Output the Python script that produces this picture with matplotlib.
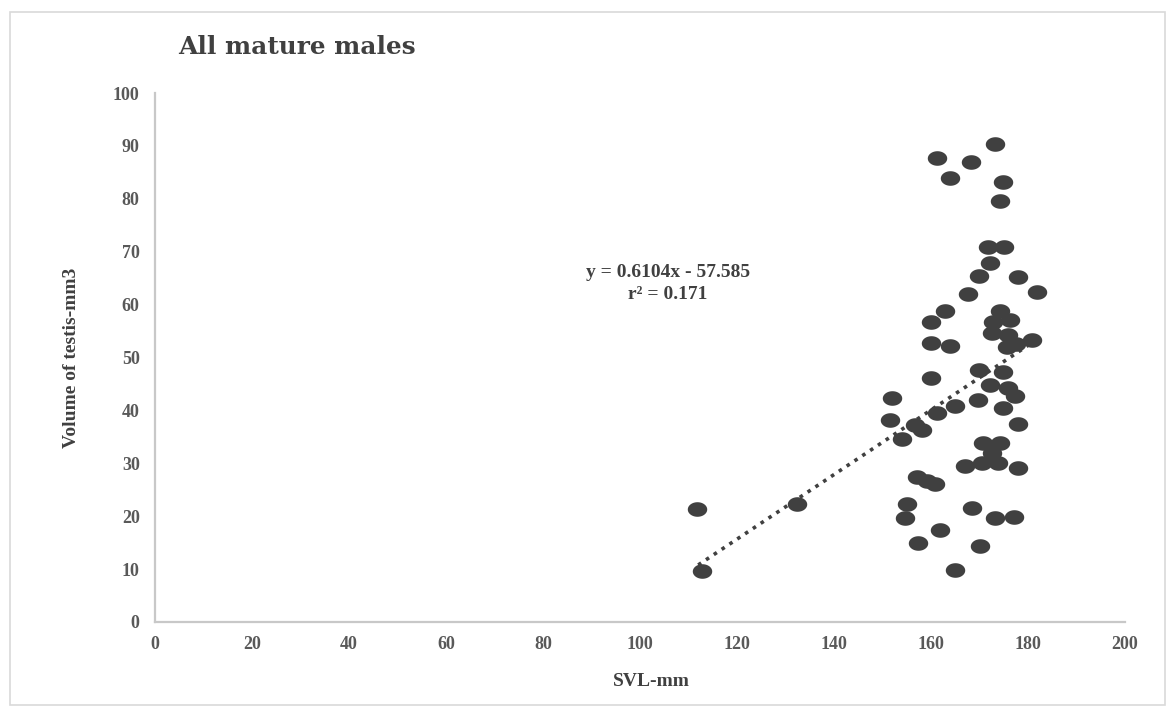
import numpy as np
import matplotlib
matplotlib.use("Agg")
import matplotlib.pyplot as plt
from matplotlib.path import Path
from matplotlib.patches import Rectangle

# ---- data ----
svl = [111.8, 112.8, 132.4, 151.9, 151.5, 154.0, 155.0, 154.6, 156.7, 158.1,
       157.4, 157.1, 159.1, 160.8, 160.1, 160.1, 160.1, 161.2, 161.2, 161.9,
       162.9, 163.9, 163.9, 164.9, 164.9, 167.6, 167.0, 168.2, 168.4, 169.9,
       169.7, 169.9, 170.0, 170.5, 170.7, 172.2, 171.8, 172.8, 172.2, 172.5,
       173.2, 172.5, 173.2, 174.2, 173.8, 174.8, 174.2, 174.8, 175.1, 174.2,
       174.8, 176.3, 175.9, 175.7, 175.9, 177.3, 177.1, 177.9, 177.9, 178.0,
       180.8, 181.9, 177.5]
volume = [21.4, 9.6, 22.4, 42.3, 38.1, 34.5, 22.4, 19.6, 37.2, 36.3,
          14.9, 27.5, 26.7, 26.1, 46.2, 52.8, 56.8, 87.8, 39.5, 17.4,
          58.7, 83.9, 52.2, 40.8, 9.8, 62.0, 29.4, 87.0, 21.5, 65.4,
          42.0, 47.6, 14.4, 30.1, 33.8, 67.9, 70.8, 56.8, 44.8, 31.9,
          90.4, 54.6, 19.6, 58.7, 30.1, 47.3, 79.5, 83.2, 70.8, 33.8,
          40.4, 57.1, 54.3, 52.0, 44.2, 42.7, 19.9, 65.2, 37.4, 29.2,
          53.3, 62.4, 52.6]
slope, intercept = 0.6104, -57.585
trend_x = [112.0, 181.0]
x_ticks = [0, 20, 40, 60, 80, 100, 120, 140, 160, 180, 200]
y_ticks = [0, 10, 20, 30, 40, 50, 60, 70, 80, 90, 100]
title = "All mature males"
eq_text = "y = 0.6104x - 57.585\nr² = 0.171"

plt.rcParams['font.family'] = ['Liberation Serif', 'DejaVu Serif']

fig = plt.figure(figsize=(11.73, 7.08), dpi=100)
ax = fig.add_axes([155/1173, 1-622/708, (1125-155)/1173, (622-93)/708])

# elliptical marker (slightly wider than tall)
t = np.linspace(0, 2*np.pi, 60)
verts = np.column_stack([np.cos(t), 0.75*np.sin(t)])
ell = Path(verts, closed=True)

ax.plot(svl, volume, linestyle='none', marker=ell, markersize=14,
        color='#404040', markeredgewidth=0, zorder=3)

tx = np.array(trend_x)
ax.plot(tx, slope*tx + intercept, linestyle=(0, (1, 1.6)), linewidth=2.6,
        color='#404040', zorder=2)

ax.set_xlim(0, 200)
ax.set_ylim(0, 100)
ax.set_xticks(x_ticks)
ax.set_yticks(y_ticks)
ax.tick_params(length=0, labelsize=13, colors='#595959')
ax.tick_params(axis='x', pad=10)
ax.tick_params(axis='y', pad=11)
for lab in ax.get_xticklabels() + ax.get_yticklabels():
    lab.set_fontweight('bold')

for s in ['top', 'right']:
    ax.spines[s].set_visible(False)
for s in ['left', 'bottom']:
    ax.spines[s].set_color('#c8c8c8')
    ax.spines[s].set_linewidth(1.6)

ax.text(105.8, 64.0, eq_text, ha='center', va='center', fontsize=14,
        fontweight='bold', color='#404040', linespacing=1.45)

fig.text(178/1173, 1-47/708, title, ha='left', va='center', fontsize=17.8,
         fontweight='bold', color='#404040', family='DejaVu Serif')
fig.text(651/1173, 1-682/708, "SVL-mm", ha='center', va='center', fontsize=14,
         fontweight='bold', color='#404040')
fig.text(72/1173, 1-358/708, "Volume of testis-mm3", ha='center', va='center',
         fontsize=14, fontweight='bold', color='#404040', rotation=90)

fig.patches.append(Rectangle((10/1173, 1-705/708), (1165-10)/1173, (705-12)/708,
                             transform=fig.transFigure, fill=False,
                             edgecolor='#d9d9d9', linewidth=1.2))

fig.savefig("out.png", dpi=100, facecolor='white')
